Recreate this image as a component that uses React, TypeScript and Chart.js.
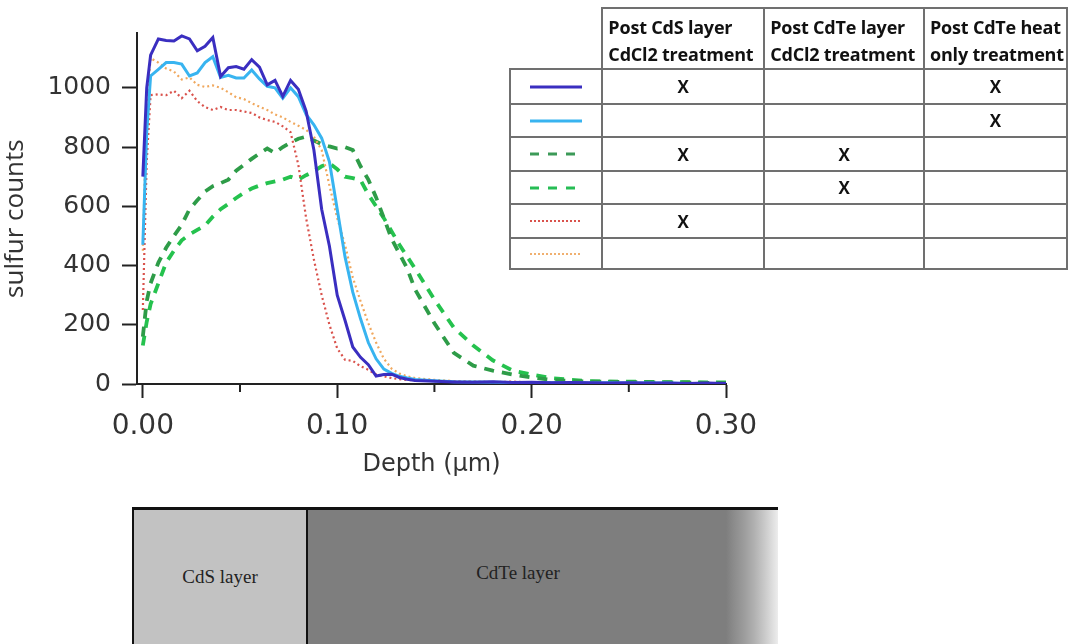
import React, { useEffect, useRef } from "react";
import { Chart, registerables } from "chart.js";

Chart.register(...registerables);

// ---------------- data ----------------
const depths = [
  0, 0.002, 0.004, 0.008, 0.012, 0.016, 0.02, 0.024, 0.028, 0.032, 0.036, 0.04,
  0.044, 0.048, 0.052, 0.056, 0.06, 0.064, 0.068, 0.072, 0.076, 0.08, 0.084,
  0.088, 0.092, 0.096, 0.1, 0.104, 0.108, 0.112, 0.116, 0.12, 0.124, 0.128,
  0.132, 0.136, 0.14, 0.15, 0.16, 0.17, 0.18, 0.19, 0.2, 0.21, 0.22, 0.23, 0.24,
  0.25, 0.26, 0.27, 0.28, 0.29, 0.3,
];

// CdS CdCl2 + CdTe heat only (dark blue solid)
const darkBlue = [
  700, 1000, 1110, 1165, 1160, 1158, 1175, 1165, 1125, 1140, 1170, 1038,
  1068, 1072, 1063, 1095, 1070, 1010, 1025, 971, 1025, 995, 921,
  790, 590, 465, 300, 215, 125, 90, 65, 27, 32, 33,
  22, 16, 12, 9, 7, 6, 8, 5, 6, 4, 5, 4, 3,
  4, 3, 3, 2, 3, 2,
];

// CdTe heat only (light blue solid)
const lightBlue = [
  470, 850, 1040, 1062, 1085, 1085, 1080, 1040, 1050, 1085, 1105, 1035,
  1042, 1033, 1033, 1060, 1030, 1005, 1000, 965, 1000, 970, 910,
  875, 830, 750, 590, 430, 310, 220, 140, 85, 50, 36,
  26, 20, 15, 11, 8, 7, 6, 5, 5, 4, 4, 3, 4,
  3, 3, 3, 2, 2, 2,
];

// CdS CdCl2 + CdTe CdCl2 (dark green dashed)
const greenA = [
  160, 280, 340, 410, 460, 500, 537, 590, 620, 650, 668, 678,
  690, 720, 740, 760, 778, 795, 780, 800, 815, 828, 835,
  822, 810, 802, 795, 800, 790, 735, 690, 630, 560, 490,
  440, 390, 320, 205, 105, 62, 45, 32, 22, 14, 10, 8, 8,
  6, 6, 5, 5, 4, 4,
];

// CdTe CdCl2 only (bright green dashed)
const greenB = [
  130, 210, 270, 340, 410, 450, 485, 505, 520, 535, 565, 590,
  608, 628, 645, 660, 670, 678, 684, 690, 700, 690, 705,
  718, 735, 745, 725, 700, 695, 688, 640, 600, 560, 515,
  470, 430, 390, 285, 190, 130, 80, 46, 32, 20, 14, 10, 8,
  8, 7, 6, 6, 5, 5,
];

// CdS CdCl2 only (red dotted)
const redDotted = [
  250, 750, 975, 978, 975, 990, 965, 990, 955, 935, 925, 935,
  925, 925, 920, 915, 900, 891, 885, 870, 850, 740, 560,
  420, 300, 200, 120, 82, 78, 60, 48, 32, 26, 20,
  16, 14, 12, 10, 8, 8, 6, 8, 5, 5, 4, 4, 3,
  3, 3, 2, 3, 2, 2,
];

// No treatment (orange dotted)
const orangeDotted = [
  450, 950, 1100, 1085, 1065, 1055, 1028, 1035, 1010, 1003, 1008, 1000,
  985, 968, 962, 948, 936, 925, 910, 900, 885, 872, 858,
  835, 790, 670, 560, 470, 360, 280, 205, 140, 85, 52,
  35, 26, 20, 14, 10, 8, 7, 6, 5, 4, 4, 3, 3,
  3, 2, 2, 2, 2, 2,
];

const xTickValues = [0, 0.1, 0.2, 0.3];
const xMinorTickValues = [0.05, 0.15, 0.25];
const yTickValues = [0, 200, 400, 600, 800, 1000];

const headers = [
  ["Post CdS layer", "CdCl2 treatment"],
  ["Post CdTe layer", "CdCl2 treatment"],
  ["Post CdTe heat", "only treatment"],
];
const tableMarks = [
  ["X", "", "X"],
  ["", "", "X"],
  ["X", "X", ""],
  ["", "X", ""],
  ["X", "", ""],
  ["", "", ""],
];

// ---------------- styles ----------------
const FONT = "'Open Sans', 'DejaVu Sans', sans-serif";
const NUM_FONT = "'DejaVu Sans', sans-serif";
const W = 780;
const H = 480;

const seriesStyles = [
  { data: darkBlue, color: "#3a2ec0", width: 3, dash: [] as number[] },
  { data: lightBlue, color: "#38b4f0", width: 3, dash: [] as number[] },
  { data: redDotted, color: "#d9524c", width: 2.2, dash: [2, 3] },
  { data: orangeDotted, color: "#f0a85e", width: 2.2, dash: [2, 3] },
  { data: greenA, color: "#2e9c48", width: 3.8, dash: [10, 8] },
  { data: greenB, color: "#25c24e", width: 3.8, dash: [10, 8] },
];

const legendSamples = [
  { color: "#3a2ec0", width: 3, dash: "" },
  { color: "#38b4f0", width: 3, dash: "" },
  { color: "#3c9a58", width: 3, dash: "9 9" },
  { color: "#26bd55", width: 3, dash: "9 9" },
  { color: "#d9524c", width: 2, dash: "2 2" },
  { color: "#f0b070", width: 2, dash: "2 2" },
];

const minorTicksPlugin = {
  id: "minorTicks",
  afterDraw(chart: any) {
    const xs = chart.scales.x;
    const ctx = chart.ctx;
    ctx.save();
    ctx.strokeStyle = "#222";
    ctx.lineWidth = 2;
    xMinorTickValues.forEach((v) => {
      const px = xs.getPixelForValue(v);
      ctx.beginPath();
      ctx.moveTo(px, xs.top);
      ctx.lineTo(px, xs.top + 8);
      ctx.stroke();
    });
    ctx.restore();
  },
};

function LegendLine({ s }: { s: { color: string; width: number; dash: string } }) {
  return (
    <svg width={56} height={10} style={{ display: "block", margin: "0 auto" }}>
      <line
        x1={2}
        y1={5}
        x2={54}
        y2={5}
        stroke={s.color}
        strokeWidth={s.width}
        strokeDasharray={s.dash || undefined}
      />
    </svg>
  );
}

export default function App() {
  const ref = useRef<HTMLCanvasElement>(null);

  useEffect(() => {
    if (!ref.current) return;
    const chart = new Chart(ref.current, {
      type: "line",
      data: {
        datasets: seriesStyles.map((s) => ({
          data: s.data.map((v, i) => ({ x: depths[i], y: v })),
          borderColor: s.color,
          borderWidth: s.width,
          borderDash: s.dash,
          pointRadius: 0,
          tension: 0,
          fill: false,
        })),
      },
      options: {
        animation: false,
        responsive: false,
        maintainAspectRatio: false,
        devicePixelRatio: 1,
        layout: { padding: { top: 33, right: W - 726, left: 0, bottom: 0 } },
        plugins: {
          legend: { display: false },
          tooltip: { enabled: false },
        },
        scales: {
          x: {
            type: "linear",
            min: -0.003,
            max: 0.3,
            afterBuildTicks: (s: any) => {
              s.ticks = xTickValues.map((v) => ({ value: v }));
            },
            afterFit: (s: any) => {
              s.height = H - 384;
            },
            border: { display: true, color: "#222", width: 2 },
            grid: {
              display: true,
              drawOnChartArea: false,
              drawTicks: true,
              tickLength: 14,
              tickColor: "#222",
              tickWidth: 2,
            },
            ticks: {
              padding: 12,
              color: "#333",
              font: { family: NUM_FONT, size: 28 },
              maxRotation: 0,
              callback: (v: any) => Number(v).toFixed(2),
            },
            title: {
              display: true,
              text: "Depth (\u03bcm)",
              color: "#333",
              font: { family: NUM_FONT, size: 24 },
              padding: { top: 0, bottom: 1 },
            },
          },
          y: {
            type: "linear",
            min: 0,
            max: 1185,
            afterBuildTicks: (s: any) => {
              s.ticks = yTickValues.map((v) => ({ value: v }));
            },
            afterFit: (s: any) => {
              s.width = 137;
            },
            border: { display: true, color: "#222", width: 2 },
            grid: {
              display: true,
              drawOnChartArea: false,
              drawTicks: true,
              tickLength: 15,
              tickColor: "#222",
              tickWidth: 2,
            },
            ticks: {
              padding: 11,
              color: "#333",
              font: { family: NUM_FONT, size: 25 },
              callback: (v: any) => String(v),
            },
            title: {
              display: true,
              text: "sulfur counts   ",
              color: "#333",
              font: { family: FONT, size: 26 },
              padding: { top: 0, bottom: 0 },
            },
          },
        },
      },
      plugins: [minorTicksPlugin],
    });
    return () => chart.destroy();
  }, []);

  const border = "2px solid #707070";
  const colW = [93, 162, 160, 143];
  const rowH = [35, 33, 34, 33, 34, 31];

  return (
    <div
      style={{
        position: "absolute",
        left: 0,
        top: 0,
        width: 1068,
        height: 644,
        background: "#fff",
        overflow: "hidden",
      }}
    >
      <div style={{ position: "absolute", left: 0, top: 0, width: W, height: H }}>
        <canvas ref={ref} width={W} height={H} style={{ display: "block", width: W, height: H }} />
      </div>

      <table
        style={{
          position: "absolute",
          left: 509,
          top: 7,
          borderCollapse: "collapse",
          tableLayout: "fixed",
          fontFamily: FONT,
          color: "#111",
        }}
      >
        <colgroup>
          {colW.map((w, i) => (
            <col key={i} style={{ width: w }} />
          ))}
        </colgroup>
        <tbody>
          <tr style={{ height: 60 }}>
            <td style={{ border: "none", borderBottom: border, borderRight: border }} />
            {headers.map((h, i) => (
              <td
                key={i}
                style={{
                  border,
                  padding: "5px 0 0 5px",
                  fontWeight: 700,
                  fontSize: 18,
                  lineHeight: "27px",
                  verticalAlign: "middle",
                  whiteSpace: "nowrap",
                  overflow: "hidden",
                  letterSpacing: "-0.2px",
                }}
              >
                {h[0]}
                <br />
                {h[1]}
              </td>
            ))}
          </tr>
          {tableMarks.map((row, r) => (
            <tr key={r} style={{ height: rowH[r] }}>
              <td style={{ border, padding: 0 }}>
                <LegendLine s={legendSamples[r]} />
              </td>
              {row.map((m, c) => (
                <td
                  key={c}
                  style={{
                    border,
                    padding: 0,
                    textAlign: "center",
                    fontWeight: 700,
                    fontSize: 17,
                  }}
                >
                  {m}
                </td>
              ))}
            </tr>
          ))}
        </tbody>
      </table>

      <div
        style={{
          position: "absolute",
          left: 132,
          top: 507,
          width: 646,
          height: 134,
          borderTop: "3px solid #111",
          borderBottom: "2px solid #111",
          display: "flex",
          fontFamily: "'Liberation Serif', 'DejaVu Serif', serif",
          color: "#222",
          fontSize: 19,
        }}
      >
        <div
          style={{
            width: 172,
            background: "#c2c2c2",
            borderLeft: "2px solid #111",
            borderRight: "2px solid #111",
            display: "flex",
            alignItems: "center",
            justifyContent: "center",
          }}
        >
          CdS layer
        </div>
        <div
          style={{
            flex: 1,
            background:
              "linear-gradient(to right, #7e7e7e 0px, #7e7e7e 418px, #8c8c8c 426px, #9c9c9c 436px, #b0b0b0 446px, #c8c8c8 456px, #e2e2e2 466px, #f2f2f2 472px)",
            position: "relative",
          }}
        >
          <div style={{ position: "absolute", left: 0, width: 420, top: 52, textAlign: "center" }}>
            CdTe layer
          </div>
        </div>
      </div>
    </div>
  );
}
